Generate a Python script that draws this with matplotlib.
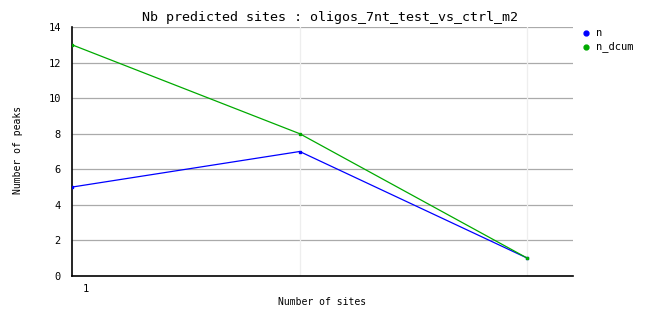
import numpy as np
import matplotlib
matplotlib.use("Agg")
import matplotlib.pyplot as plt

# ==========================================================
# DATA
# ==========================================================
x_pos = [0, 1, 2]
n_vals = [5, 7, 1]
n_dcum_vals = [13, 8, 1]
x_tick_labels = ["1"]
y_ticks = [0, 2, 4, 6, 8, 10, 12, 14]

BLUE = "#0000ff"
GREEN = "#00aa00"
MONO = "DejaVu Sans Mono"

fig = plt.figure(figsize=(6.62, 3.28), dpi=100)
ax = fig.add_axes([72 / 662, 1 - 276 / 328, (573 - 72) / 662, (276 - 27) / 328])

ax.set_xlim(0, 2.2)
ax.set_ylim(0, 14)

# grid
for y in y_ticks[1:]:
    ax.axhline(y, color="#aaaaaa", lw=0.9, zorder=1)
for x in x_pos[1:]:
    ax.axvline(x, color="#eeeeee", lw=0.9, zorder=1)

ax.plot(x_pos, n_vals, color=BLUE, lw=0.9, marker="s", ms=2, zorder=3)
ax.plot(x_pos, n_dcum_vals, color=GREEN, lw=0.9, marker="s", ms=2, zorder=4)

for s in ["top", "right"]:
    ax.spines[s].set_visible(False)
for s in ["left", "bottom"]:
    ax.spines[s].set_linewidth(1.2)
    ax.spines[s].set_color("black")

ax.set_yticks(y_ticks)
ax.set_yticklabels([str(v) for v in y_ticks], fontsize=7.5, family=MONO)
ax.tick_params(axis="y", length=0, pad=8)
ax.set_xticks([0.06])
ax.set_xticklabels(x_tick_labels, fontsize=7.5, family=MONO)
ax.tick_params(axis="x", length=0, pad=6)

fig.text(330 / 662, 1 - 17 / 328, "Nb predicted sites : oligos_7nt_test_vs_ctrl_m2",
         ha="center", va="center", fontsize=9.6, family=MONO, weight="light")
fig.text(322 / 662, 1 - 302 / 328, "Number of sites",
         ha="center", va="center", fontsize=7, family=MONO)
fig.text(18 / 662, 1 - 150 / 328, "Number of peaks", rotation=90,
         ha="center", va="center", fontsize=7, family=MONO)

# legend
for i, (lab, col) in enumerate([("n", BLUE), ("n_dcum", GREEN)]):
    yy = 1 - (33 + i * 14) / 328
    fig.lines.append(plt.Line2D([586 / 662], [yy], marker="o", ms=3.5, color=col,
                                transform=fig.transFigure, figure=fig))
    fig.text(596 / 662, yy, lab, ha="left", va="center", fontsize=7.5, family=MONO)

fig.savefig("out.png", dpi=100)
